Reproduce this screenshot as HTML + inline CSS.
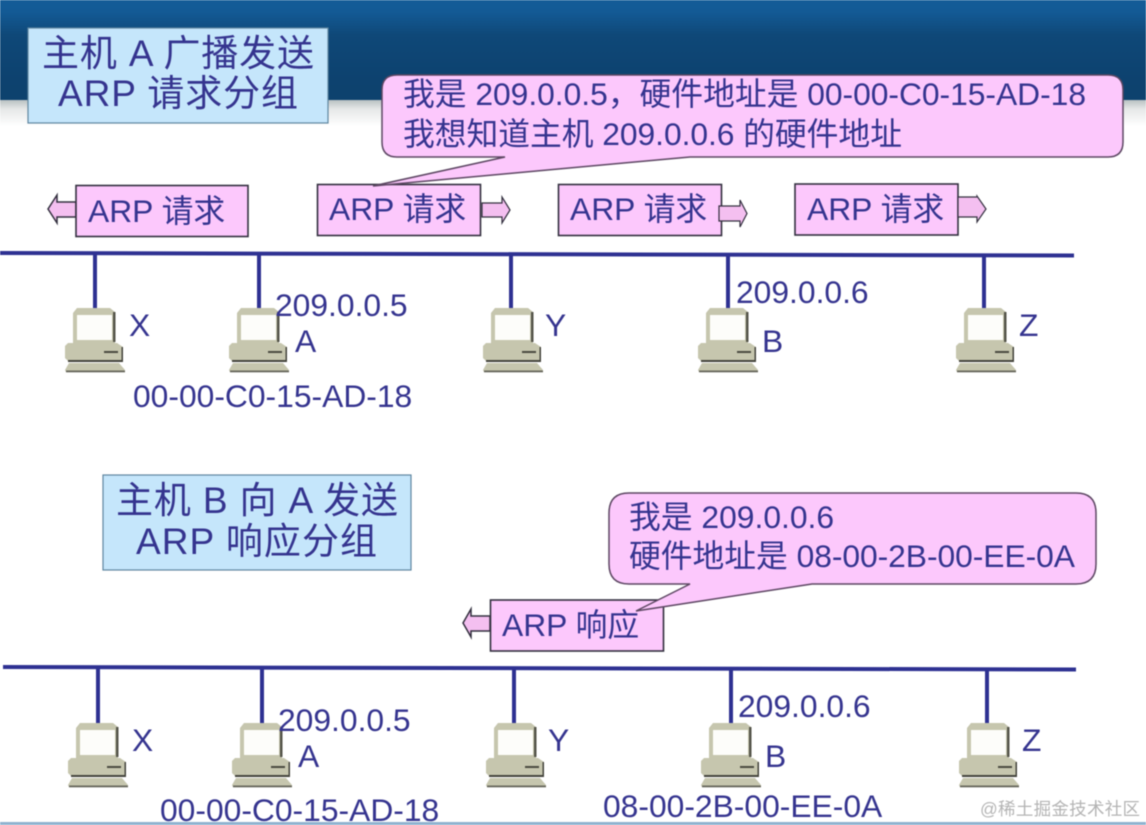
<!DOCTYPE html>
<html><head><meta charset="utf-8">
<style>
html,body{margin:0;padding:0;background:#fff;width:1146px;height:825px;overflow:hidden}
svg{display:block;filter:blur(.4px)}
text{font-family:"Liberation Sans","Noto Sans CJK SC",sans-serif;fill:#35348f;font-size:31.8px}
.t{font-size:37px}
</style></head><body>
<svg width="1146" height="825" viewBox="0 0 1146 825" xmlns="http://www.w3.org/2000/svg">
<defs>
<linearGradient id="bg" x1="0" y1="0" x2="0" y2="1">
<stop offset="0" stop-color="#145c98"/><stop offset=".12" stop-color="#135a95"/><stop offset=".35" stop-color="#0f4878"/><stop offset=".8" stop-color="#0d426f"/><stop offset="1" stop-color="#0d426e"/>
</linearGradient>
<linearGradient id="fade" x1="0" y1="0" x2="0" y2="1">
<stop offset="0" stop-color="#b9c1c2"/><stop offset=".35" stop-color="#e6e8e8"/><stop offset="1" stop-color="#fff"/>
</linearGradient>
<g id="pc">
<path d="M8 36V5L12 0H45L50 4V36Z" fill="#c6c6ae"/>
<path d="M48 4H50.500V34H48Z" fill="#55554a"/>
<rect x="12" y="7" width="35" height="25" fill="#fdfdfa"/>
<path d="M3 35H52L58 39V53H3L0 50V38Z" fill="#c6c6ae"/>
<path d="M58 39V54H3V52H56.500V39Z" fill="#44443c"/>
<rect x="39" y="43" width="14" height="2" fill="#4a4a40"/>
<path d="M4 55H54L60 62L59 64H1L0 62Z" fill="#c6c6ae"/>
<rect x="1" y="62.500" width="59" height="1.800" fill="#66665a"/>
</g>
<g id="lan">
<g fill="none" stroke="#2e3192" stroke-width="4">
<path d="M95 0V56M259 0V56M511 0V56M728 0V56M984 0V56"/>
</g>
<use href="#pc" x="65" y="54"/><use href="#pc" x="229" y="54"/><use href="#pc" x="483" y="54"/><use href="#pc" x="698" y="54"/><use href="#pc" x="956" y="54"/>
</g>
</defs>

<rect x="0" y="0" width="1146" height="100" fill="url(#bg)"/>
<rect x="0" y="100" width="1146" height="26" fill="url(#fade)"/>
<rect x="0" y="822" width="1146" height="3" fill="#8fb2cf"/>

<!-- top network -->
<rect x="28" y="28" width="300" height="95" fill="#c5e6fb" stroke="#5f86a0" stroke-width="1.2"/>
<text class="t" x="42" y="66" textLength="272">主机 A 广播发送</text>
<text class="t" x="58" y="106" textLength="240">ARP 请求分组</text>

<g stroke="#33303f" stroke-width="1.6" fill="#fcc8fc">
<path d="M76 202H57V195L48 209L57 223V217H76Z" stroke-width="1.5" fill="#f4bff0"/>
<rect x="76" y="185.500" width="172" height="51"/>
<rect x="317.500" y="184.500" width="163" height="51"/>
<rect x="558.500" y="184.500" width="163" height="51"/>
<rect x="795" y="184" width="163" height="51"/>
<path d="M482 203H502V197L510 210L502 223V217H482Z" stroke-width="1.2" fill="#f4bff0"/>
<path d="M719 206H740V200L747 213.500L740 227V221H719Z" stroke-width="1.2" fill="#f4bff0"/>
<path d="M958 197H977V196L986 209L977 222V217H958Z" stroke-width="1.2" fill="#f4bff0"/>
</g>

<path d="M397 75H1108Q1123 75 1123 90V142Q1123 157 1108 157H690L373 186L505 157H397Q382 157 382 142V90Q382 75 397 75Z" fill="#fcc8fc" stroke="#5d4763" stroke-width="1.5"/>
<text x="403" y="105" textLength="683">我是 209.0.0.5，硬件地址是 00-00-C0-15-AD-18</text>
<text x="403" y="145" textLength="499">我想知道主机 209.0.0.6 的硬件地址</text>

<text x="88" y="222">ARP 请求</text>
<text x="329" y="220">ARP 请求</text>
<text x="570" y="220">ARP 请求</text>
<text x="807" y="220">ARP 请求</text>

<path d="M0 253L1074 255.500" stroke="#2e3192" stroke-width="4" fill="none"/>
<use href="#lan" x="0" y="254"/>
<text x="129" y="336">X</text>
<text x="275" y="316">209.0.0.5</text>
<text x="295" y="352">A</text>
<text x="133" y="407">00-00-C0-15-AD-18</text>
<text x="545" y="336">Y</text>
<text x="736" y="303">209.0.0.6</text>
<text x="762" y="352">B</text>
<text x="1019" y="336">Z</text>

<!-- bottom network -->
<rect x="103" y="475" width="308" height="95" fill="#c5e6fb" stroke="#5f86a0" stroke-width="1.2"/>
<text class="t" x="116" y="513" textLength="282">主机 B 向 A 发送</text>
<text class="t" x="136" y="554" textLength="241">ARP 响应分组</text>

<path d="M490 616H471V609L463 623L471 637V631H490Z" fill="#f4bff0" stroke="#33303f" stroke-width="1.5"/>
<rect x="490.500" y="600" width="173" height="51" fill="#fcc8fc" stroke="#33303f" stroke-width="1.6"/>
<path d="M629 493H1076Q1096 493 1096 513V564Q1096 584 1076 584H812L636 611L690 584H629Q609 584 609 564V513Q609 493 629 493Z" fill="#fcc8fc" stroke="#5d4763" stroke-width="1.5"/>
<text x="629" y="528">我是 209.0.0.6</text>
<text x="629" y="567" textLength="446">硬件地址是 08-00-2B-00-EE-0A</text>
<text x="502" y="636">ARP 响应</text>

<path d="M3 667L1076 669.500" stroke="#2e3192" stroke-width="4" fill="none"/>
<use href="#lan" x="3" y="669"/>
<text x="132" y="751">X</text>
<text x="278" y="731">209.0.0.5</text>
<text x="298" y="767">A</text>
<text x="160" y="821">00-00-C0-15-AD-18</text>
<text x="548" y="751">Y</text>
<text x="738" y="717">209.0.0.6</text>
<text x="765" y="767">B</text>
<text x="603" y="817">08-00-2B-00-EE-0A</text>
<text x="1022" y="751">Z</text>

<text x="980" y="815" style="font-size:17.500px;fill:#b4b4b4" textLength="160">@稀土掘金技术社区</text>
</svg>
</body></html>
